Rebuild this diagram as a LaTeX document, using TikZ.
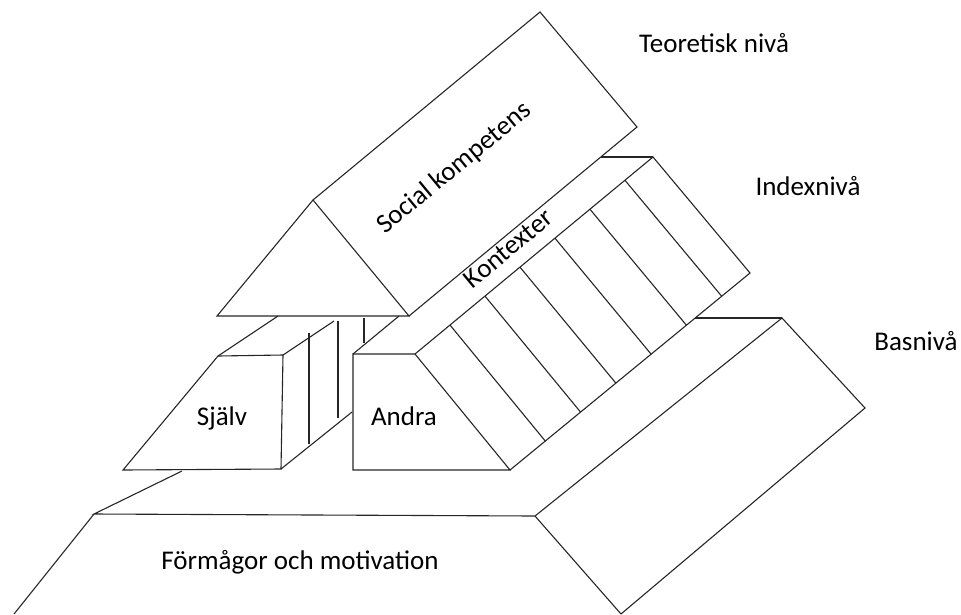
\documentclass[tikz,border=0pt]{standalone}
\usepackage{fontspec}
\setmainfont{Carlito}
\usepackage{tikz}
\usetikzlibrary{calc}

\begin{document}
\begin{tikzpicture}[x=1pt,y=-1pt,
    outline/.style={line width=1.1pt,black!85},
    lbl/.style={font=\fontsize{27}{32}\selectfont,anchor=base,inner sep=0pt}]
  \useasboundingbox (0,0) rectangle (961,614);

  % base level
  \draw[outline] (182,471) -- (94,514) -- (535,516) -- (782,318) -- (865,408) -- (621,614);
  \draw[outline] (94,514) -- (14,614);
  \draw[outline] (535,516) -- (621,614);
  \draw[outline] (695,318) -- (782,318);

  % self block
  \draw[outline] (218,356) -- (283,355) -- (281,469) -- (123,470) -- cycle;
  \draw[outline] (218,356) -- (278,316);
  \draw[outline] (283,355) -- (334,321);
  \draw[outline] (281,469) -- (352,412);
  \draw[outline] (309,333) -- (309,444);
  \draw[outline] (338,321) -- (338,418);
  \draw[outline] (364,318) -- (364,343);

  % contexts block
  \coordinate (kfl) at (415,354);
  \coordinate (kbl) at (653,157);
  \coordinate (kfr) at (510,470);
  \coordinate (kbr) at (750,273);
  \draw[outline] (kfl) -- (353,354) -- (353,470) -- (kfr) -- cycle;
  \draw[outline] (kfl) -- (kbl) -- (kbr) -- (kfr);
  \draw[outline] (601,157) -- (kbl);
  \draw[outline] (353,354) -- (399,316);
  \foreach \k in {1,...,6}
    \draw[outline] ($(kfl)!\k*0.147!(kbl)$) -- ($(kfr)!\k*0.147!(kbr)$);

  % social competence
  \draw[outline] (217,316) -- (313,200) -- (409,316) -- cycle;
  \draw[outline] (313,200) -- (540,12) -- (637,127) -- (409,316);

  \node[lbl] (teori) at (714,52) {Teoretisk nivå};
  \node[lbl] (index) at (808,195) {Indexnivå};
  \node[lbl] (bas) at (916,350) {Basnivå};
  \node[lbl] (sjalv) at (222,425) {Själv};
  \node[lbl] (andra) at (404,425) {Andra};
  \node[lbl] (formaga) at (300,569) {Förmågor och motivation};
  \node[lbl,rotate=39.6] (social) at (459,174) {Social kompetens};
  \node[lbl,rotate=39.6] (kontext) at (514,255) {Kontexter};
\end{tikzpicture}
\end{document}
